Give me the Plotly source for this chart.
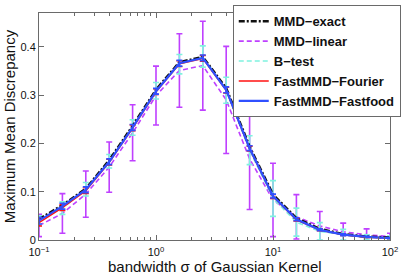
import plotly.graph_objects as go

# ---- data ----
sigma = [0.1, 0.1585, 0.2512, 0.3981, 0.631, 1.0, 1.585, 2.512, 3.981, 6.31,
         10.0, 15.85, 25.12, 39.81, 63.1, 100.0]

mmd_exact = [0.043, 0.072, 0.106, 0.165, 0.236, 0.311, 0.368, 0.379, 0.314, 0.193,
             0.094, 0.045, 0.023, 0.012, 0.007, 0.005]

mmd_linear = [0.030, 0.055, 0.095, 0.151, 0.222, 0.299, 0.351, 0.361, 0.290, 0.168,
              0.083, 0.048, 0.029, 0.017, 0.011, 0.007]
mmd_linear_err = [0.023, 0.041, 0.048, 0.052, 0.058, 0.061, 0.076, 0.092, 0.111, 0.105,
                  0.076, 0.046, 0.030, 0.018, 0.012, 0.007]

btest = [0.041, 0.066, 0.105, 0.163, 0.233, 0.309, 0.364, 0.380, 0.310, 0.186,
         0.086, 0.037, 0.018, 0.011, 0.006, 0.004]
btest_err = [0.009, 0.013, 0.014, 0.014, 0.016, 0.017, 0.020, 0.022, 0.027, 0.030,
             0.037, 0.029, 0.018, 0.011, 0.005, 0.004]

fourier = [0.036, 0.067, 0.102, 0.161, 0.232, 0.307, 0.365, 0.376, 0.310, 0.189,
           0.090, 0.042, 0.021, 0.011, 0.006, 0.004]
fourier_err = [0.007, 0.006, 0.006, 0.006, 0.006, 0.006, 0.006, 0.006, 0.006, 0.005,
               0.004, 0.003, 0.002, 0.002, 0.001, 0.001]

fastfood = [0.040, 0.070, 0.104, 0.162, 0.233, 0.308, 0.366, 0.377, 0.311, 0.190,
            0.091, 0.043, 0.021, 0.011, 0.0065, 0.004]
fastfood_err = [0.007, 0.006, 0.006, 0.006, 0.006, 0.006, 0.006, 0.006, 0.006, 0.005,
                0.004, 0.003, 0.002, 0.002, 0.001, 0.001]

x_tick_vals = [0.1, 1, 10, 100]
x_tick_text = ["10<sup>\u22121</sup>", "10<sup>0</sup>", "10<sup>1</sup>", "10<sup>2</sup>"]
y_tick_vals = [0, 0.1, 0.2, 0.3, 0.4]
y_tick_text = ["0", "0.1", "0.2", "0.3", "0.4"]
minor_vals = [m * 10 ** e for e in (-1, 0, 1) for m in range(2, 10)]
x_title = "bandwidth \u03c3 of Gaussian Kernel"
y_title = "Maximum Mean Discrepancy"

MAGENTA = "#BF40FF"
CYAN = "#7FF2DF"
BLUE = "#3050FF"
RED = "#FF1010"

fig = go.Figure()

fig.add_trace(go.Scatter(
    x=sigma, y=mmd_linear, name="MMD\u2212linear", mode="lines", legendrank=2,
    line=dict(color=MAGENTA, width=1.6, dash="5px,3px"),
    error_y=dict(type="data", array=mmd_linear_err, color=MAGENTA, thickness=1.6, width=3),
))
fig.add_trace(go.Scatter(
    x=sigma, y=btest, name="B\u2212test", mode="lines", legendrank=3,
    line=dict(color=CYAN, width=1.6, dash="5px,3px"),
    error_y=dict(type="data", array=btest_err, color=CYAN, thickness=1.6, width=3),
))
fig.add_trace(go.Scatter(
    x=sigma, y=mmd_exact, name="MMD\u2212exact", mode="lines", legendrank=1,
    line=dict(color="#111111", width=2.6, dash="6px,2px,2px,2px"),
))
fig.add_trace(go.Scatter(
    x=sigma, y=fourier, name="FastMMD\u2212Fourier", mode="lines", legendrank=4,
    line=dict(color=RED, width=1.6),
    error_y=dict(type="data", array=fourier_err, color=RED, thickness=1.4, width=3),
))
fig.add_trace(go.Scatter(
    x=sigma, y=fastfood, name="FastMMD\u2212Fastfood", mode="lines", legendrank=5,
    line=dict(color=BLUE, width=2.2),
    error_y=dict(type="data", array=fastfood_err, color=BLUE, thickness=1.6, width=3),
))

axis_color = "#6a6a6a"
fig.update_layout(
    width=407, height=274,
    margin=dict(l=39, r=17, t=5, b=34),
    paper_bgcolor="white", plot_bgcolor="white",
    font=dict(family="Liberation Sans, Arial, sans-serif", color="#111111", size=11),
    showlegend=True,
    legend=dict(
        x=0.552, y=1.034, xanchor="left", yanchor="top",
        bgcolor="white", bordercolor=axis_color, borderwidth=1,
        font=dict(size=13, weight="bold", color="#111111"),
        itemwidth=30,
    ),
    xaxis=dict(
        type="log", range=[-1, 2],
        tickvals=x_tick_vals, ticktext=x_tick_text,
        ticks="inside", ticklen=5, tickcolor=axis_color, tickwidth=1,
        showline=True, linecolor=axis_color, linewidth=1, mirror="ticks",
        showgrid=False, zeroline=False,
        minor=dict(tickvals=minor_vals, ticks="inside", ticklen=3, tickcolor=axis_color, showgrid=False),
        tickfont=dict(size=11), ticklabelstandoff=2,
    ),
    yaxis=dict(
        range=[0, 0.47],
        tickvals=y_tick_vals, ticktext=y_tick_text,
        ticks="inside", ticklen=5, tickcolor=axis_color, tickwidth=1,
        showline=True, linecolor=axis_color, linewidth=1, mirror="ticks",
        showgrid=False, zeroline=False,
        tickfont=dict(size=11),
        title=dict(text=y_title, font=dict(size=15), standoff=1),
    ),
    annotations=[dict(
        text=x_title, xref="paper", yref="paper", x=0.5, y=-0.116,
        xanchor="center", yanchor="middle", showarrow=False, font=dict(size=15),
    )],
)

fig.write_html(
    "out.html",
    config={"displayModeBar": False},
    post_script="document.body.style.margin='0px';document.body.style.overflow='hidden';",
)
